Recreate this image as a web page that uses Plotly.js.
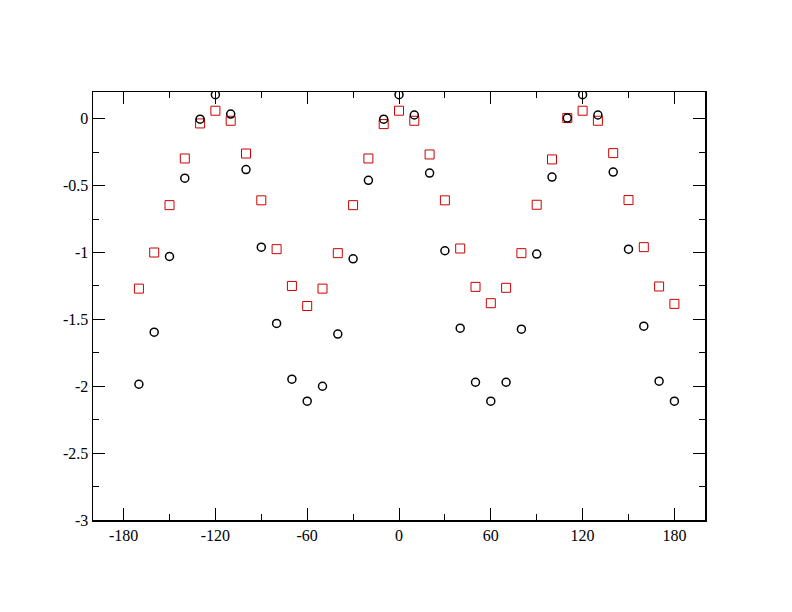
<!DOCTYPE html>
<html>
<head>
<meta charset="utf-8">
<script src="https://cdn.plot.ly/plotly-3.0.1.min.js"></script>
<style>html,body{margin:0;padding:0;background:#fff;}#chart{width:792px;height:612px;}</style>
</head>
<body>
<div id="chart"></div>
<script>
const angles = [-170,-160,-150,-140,-130,-120,-110,-100,-90,-80,-70,-60,-50,-40,-30,-20,-10,0,10,20,30,40,50,60,70,80,90,100,110,120,130,140,150,160,170,180];
const circleValues = [-1.985,-1.596,-1.03,-0.444,-0.003,0.18,0.035,-0.38,-0.96,-1.53,-1.947,-2.112,-2.0,-1.61,-1.047,-0.46,-0.003,0.18,0.028,-0.406,-0.987,-1.566,-1.97,-2.112,-1.97,-1.573,-1.012,-0.436,0.005,0.18,0.028,-0.399,-0.975,-1.551,-1.962,-2.112];
const squareValues = [-1.27,-1.0,-0.646,-0.297,-0.035,0.06,-0.015,-0.26,-0.61,-0.975,-1.25,-1.40,-1.27,-1.005,-0.646,-0.297,-0.04,0.06,-0.015,-0.267,-0.61,-0.97,-1.257,-1.379,-1.264,-1.005,-0.643,-0.304,0.005,0.06,-0.015,-0.257,-0.608,-0.96,-1.254,-1.384];
const xTickVals = [-180,-120,-60,0,60,120,180];
const yTickVals = [-3,-2.5,-2,-1.5,-1,-0.5,0];
const yTickText = ['-3','-2.5','-2','-1.5','-1','-0.5','0'];

const traces = [
  {
    x: angles, y: squareValues, type: 'scatter', mode: 'markers',
    marker: {symbol: 'square-open', size: 9, color: '#cc0000', line: {width: 1, color: '#cc0000'}},
    hoverinfo: 'x+y'
  },
  {
    x: angles, y: circleValues, type: 'scatter', mode: 'markers',
    marker: {symbol: 'circle-open', size: 8, color: '#000000', line: {width: 1.5, color: '#000000'}},
    hoverinfo: 'x+y'
  }
];

const axisCommon = {
  showgrid: false, zeroline: false, showline: true, linecolor: '#000', linewidth: 1.5,
  mirror: 'allticks', ticks: 'inside', ticklen: 12, tickwidth: 1, tickcolor: '#000',
  tickfont: {family: 'Liberation Serif, Times New Roman, serif', size: 16, color: '#000'}
};

const layout = {
  width: 792, height: 612,
  paper_bgcolor: '#fff', plot_bgcolor: '#fff',
  showlegend: false,
  margin: {l: 93, r: 87, t: 92, b: 92},
  xaxis: Object.assign({}, axisCommon, {
    range: [-200, 200], tickmode: 'array', tickvals: xTickVals, ticktext: xTickVals.map(String),
    minor: {dtick: 30, tick0: 0, ticks: 'inside', ticklen: 6, tickwidth: 1, tickcolor: '#000', showgrid: false}
  }),
  yaxis: Object.assign({}, axisCommon, {
    range: [-3, 0.2], tickmode: 'array', tickvals: yTickVals, ticktext: yTickText,
    minor: {dtick: 0.25, tick0: 0, ticks: 'inside', ticklen: 6, tickwidth: 1, tickcolor: '#000', showgrid: false}
  })
};

Plotly.newPlot('chart', traces, layout, {displayModeBar: false, staticPlot: true});
</script>
</body>
</html>
